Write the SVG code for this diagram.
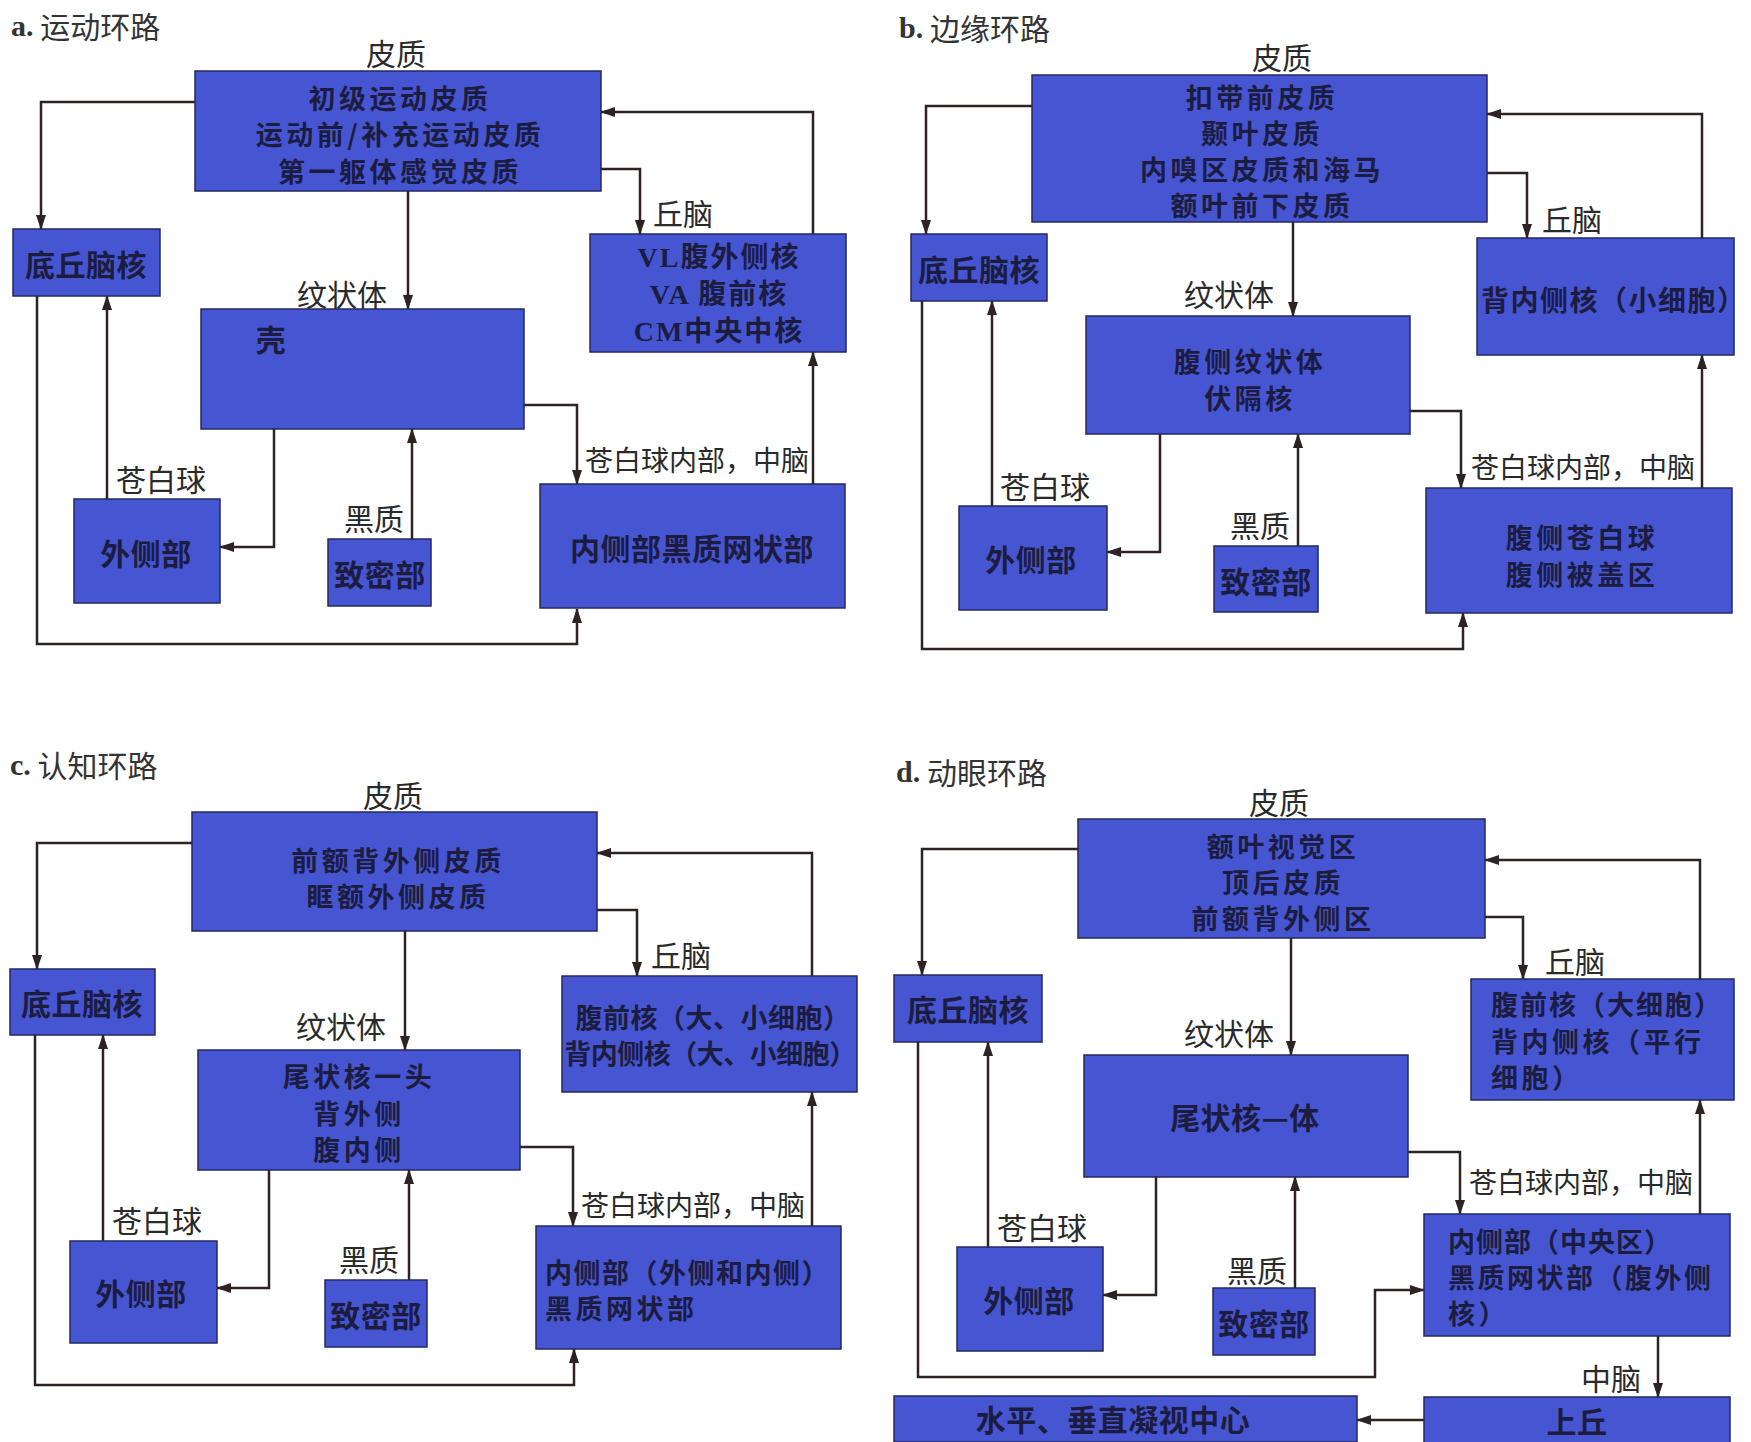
<svg xmlns="http://www.w3.org/2000/svg" width="1751" height="1442" viewBox="0 0 1751 1442">
<defs>
<marker id="arr" markerUnits="userSpaceOnUse" markerWidth="15" markerHeight="10" refX="14" refY="5" orient="auto">
<path d="M0,0 L15,5 L0,10 z" fill="#2e2222"/>
</marker>
<style>
.box{fill:#4656d2;stroke:#25285e;stroke-width:1.5}
.bt{font-family:"Noto Sans CJK SC","Noto Sans",sans-serif;font-size:27px;letter-spacing:3.5px;font-weight:700;fill:#1c1c40;text-anchor:middle;dominant-baseline:central}
.bs{font-size:30px;letter-spacing:0.5px}
.bl{text-anchor:start}
.lt{font-family:"Liberation Serif","Noto Sans CJK SC",serif;font-size:28px;letter-spacing:2px;font-weight:700;fill:#1c1c40;text-anchor:middle;dominant-baseline:central}
.lb{font-family:"Noto Sans CJK SC",sans-serif;font-size:30px;font-weight:400;fill:#2a2a2a;text-anchor:middle;dominant-baseline:central}
.lw{font-size:28px}
.ti{font-family:"Noto Sans CJK SC",sans-serif;font-size:30px;fill:#333;dominant-baseline:central}
.ti tspan.l{font-family:"Liberation Serif",serif;font-weight:700;font-size:30px}
.c{fill:none;stroke:#2e2222;stroke-width:2.5;marker-end:url(#arr)}
</style>
</defs>
<rect width="1751" height="1442" fill="#ffffff"/>

<!-- Titles -->
<text class="ti" x="11" y="25"><tspan class="l">a.</tspan> 运动环路</text>
<text class="ti" x="899" y="27"><tspan class="l">b.</tspan> 边缘环路</text>
<text class="ti" x="10" y="764"><tspan class="l">c.</tspan> 认知环路</text>
<text class="ti" x="896" y="771"><tspan class="l">d.</tspan> 动眼环路</text>

<!-- Labels -->
<g id="labels">
<text class="lb" x="396" y="52">皮质</text>
<text class="lb" x="683" y="212">丘脑</text>
<text class="lb" x="342" y="293">纹状体</text>
<text class="lb" x="161" y="478">苍白球</text>
<text class="lb" x="374" y="517">黑质</text>
<text class="lb lw" x="697" y="459">苍白球内部，中脑</text>

<text class="lb" x="1282" y="56">皮质</text>
<text class="lb" x="1572" y="218">丘脑</text>
<text class="lb" x="1229" y="293">纹状体</text>
<text class="lb" x="1045" y="485">苍白球</text>
<text class="lb" x="1260" y="524">黑质</text>
<text class="lb lw" x="1583" y="466">苍白球内部，中脑</text>

<text class="lb" x="393" y="794">皮质</text>
<text class="lb" x="681" y="954">丘脑</text>
<text class="lb" x="341" y="1025">纹状体</text>
<text class="lb" x="157" y="1219">苍白球</text>
<text class="lb" x="369" y="1258">黑质</text>
<text class="lb lw" x="693" y="1204">苍白球内部，中脑</text>

<text class="lb" x="1279" y="801">皮质</text>
<text class="lb" x="1575" y="960">丘脑</text>
<text class="lb" x="1229" y="1032">纹状体</text>
<text class="lb" x="1042" y="1226">苍白球</text>
<text class="lb" x="1257" y="1269">黑质</text>
<text class="lb lw" x="1581" y="1181">苍白球内部，中脑</text>
<text class="lb" x="1611" y="1377">中脑</text>
</g>

<!-- Connectors -->
<g id="connectors">
<!-- a -->
<polyline class="c" points="195,102 41,102 41,229"/>
<polyline class="c" points="408,191 408,309"/>
<polyline class="c" points="601,169 640,169 640,234"/>
<polyline class="c" points="813,234 813,112 601,112"/>
<polyline class="c" points="524,405 577,405 577,484"/>
<polyline class="c" points="813,484 813,352"/>
<polyline class="c" points="274,429 274,547 220,547"/>
<polyline class="c" points="412,539 412,429"/>
<polyline class="c" points="107,499 107,296"/>
<polyline class="c" points="37,296 37,644 577,644 577,609"/>
<!-- b -->
<polyline class="c" points="1032,106 926,106 926,234"/>
<polyline class="c" points="1293,222 1293,316"/>
<polyline class="c" points="1487,173 1527,173 1527,238"/>
<polyline class="c" points="1702,238 1702,114 1487,114"/>
<polyline class="c" points="1410,411 1461,411 1461,488"/>
<polyline class="c" points="1702,488 1702,355"/>
<polyline class="c" points="1160,434 1160,552 1107,552"/>
<polyline class="c" points="1298,546 1298,434"/>
<polyline class="c" points="992,506 992,301"/>
<polyline class="c" points="922,301 922,649 1463,649 1463,613"/>
<!-- c -->
<polyline class="c" points="192,843 37,843 37,969"/>
<polyline class="c" points="405,931 405,1050"/>
<polyline class="c" points="597,910 637,910 637,976"/>
<polyline class="c" points="812,976 812,853 597,853"/>
<polyline class="c" points="520,1147 573,1147 573,1226"/>
<polyline class="c" points="812,1226 812,1092"/>
<polyline class="c" points="269,1170 269,1288 217,1288"/>
<polyline class="c" points="409,1280 409,1170"/>
<polyline class="c" points="103,1241 103,1035"/>
<polyline class="c" points="35,1035 35,1385 574,1385 574,1349"/>
<!-- d -->
<polyline class="c" points="1078,849 922,849 922,975"/>
<polyline class="c" points="1291,938 1291,1055"/>
<polyline class="c" points="1485,917 1523,917 1523,979"/>
<polyline class="c" points="1700,979 1700,860 1485,860"/>
<polyline class="c" points="1408,1152 1460,1152 1460,1214"/>
<polyline class="c" points="1700,1214 1700,1100"/>
<polyline class="c" points="1156,1177 1156,1295 1103,1295"/>
<polyline class="c" points="1295,1288 1295,1177"/>
<polyline class="c" points="988,1247 988,1042"/>
<polyline class="c" points="918,1042 918,1377 1375,1377 1375,1290 1424,1290"/>
<polyline class="c" points="1658,1336 1658,1397"/>
<polyline class="c" points="1424,1420 1357,1420"/>
</g>

<!-- Panel a nodes -->
<g id="a-cortex"><rect class="box" x="195" y="71" width="406" height="120"/>
<text class="bt" x="400" y="97">初级运动皮质</text>
<text class="bt" x="400" y="133">运动前/补充运动皮质</text>
<text class="bt" x="400" y="170">第一躯体感觉皮质</text></g>
<g id="a-stn"><rect class="box" x="13" y="229" width="147" height="67"/>
<text class="bt bs" x="86" y="263">底丘脑核</text></g>
<g id="a-thal"><rect class="box" x="590" y="234" width="256" height="118"/>
<text class="lt" x="719" y="257">VL腹外侧核</text>
<text class="lt" x="719" y="294">VA 腹前核</text>
<text class="lt" x="719" y="331">CM中央中核</text></g>
<g id="a-putamen"><rect class="box" x="201" y="309" width="323" height="120"/>
<text class="bt bs" x="271" y="338">壳</text></g>
<g id="a-gpe"><rect class="box" x="74" y="499" width="146" height="104"/>
<text class="bt bs" x="146" y="552">外侧部</text></g>
<g id="a-snc"><rect class="box" x="328" y="539" width="103" height="67"/>
<text class="bt bs" x="380" y="573">致密部</text></g>
<g id="a-gpi"><rect class="box" x="540" y="484" width="305" height="124"/>
<text class="bt bs" x="692" y="547">内侧部黑质网状部</text></g>

<!-- Panel b nodes -->
<g id="b-cortex"><rect class="box" x="1032" y="75" width="455" height="147"/>
<text class="bt" x="1262" y="96">扣带前皮质</text>
<text class="bt" x="1262" y="132">颞叶皮质</text>
<text class="bt" x="1262" y="168">内嗅区皮质和海马</text>
<text class="bt" x="1262" y="204">额叶前下皮质</text></g>
<g id="b-stn"><rect class="box" x="911" y="234" width="136" height="67"/>
<text class="bt bs" x="979" y="268">底丘脑核</text></g>
<g id="b-thal"><rect class="box" x="1477" y="238" width="257" height="117"/>
<text class="bt bs bl" x="1481" y="299" style="letter-spacing:1.5px;font-size:28px">背内侧核（小细胞）</text></g>
<g id="b-striatum"><rect class="box" x="1086" y="316" width="324" height="118"/>
<text class="bt" x="1250" y="360">腹侧纹状体</text>
<text class="bt" x="1250" y="397">伏隔核</text></g>
<g id="b-gpe"><rect class="box" x="959" y="506" width="148" height="104"/>
<text class="bt bs" x="1031" y="558">外侧部</text></g>
<g id="b-snc"><rect class="box" x="1214" y="546" width="104" height="66"/>
<text class="bt bs" x="1266" y="580">致密部</text></g>
<g id="b-vp"><rect class="box" x="1426" y="488" width="306" height="125"/>
<text class="bt" x="1582" y="536">腹侧苍白球</text>
<text class="bt" x="1582" y="573">腹侧被盖区</text></g>

<!-- Panel c nodes -->
<g id="c-cortex"><rect class="box" x="192" y="812" width="405" height="119"/>
<text class="bt" x="398" y="859">前额背外侧皮质</text>
<text class="bt" x="398" y="895">眶额外侧皮质</text></g>
<g id="c-stn"><rect class="box" x="10" y="969" width="145" height="66"/>
<text class="bt bs" x="82" y="1002">底丘脑核</text></g>
<g id="c-thal"><rect class="box" x="562" y="976" width="295" height="116"/>
<text class="bt" x="713" y="1016" style="letter-spacing:0.5px">腹前核（大、小细胞）</text>
<text class="bt" x="710" y="1052" style="letter-spacing:-0.5px">背内侧核（大、小细胞）</text></g>
<g id="c-caudate"><rect class="box" x="198" y="1050" width="322" height="120"/>
<text class="bt" x="359" y="1075">尾状核一头</text>
<text class="bt" x="359" y="1112">背外侧</text>
<text class="bt" x="359" y="1148">腹内侧</text></g>
<g id="c-gpe"><rect class="box" x="70" y="1241" width="147" height="102"/>
<text class="bt bs" x="141" y="1292">外侧部</text></g>
<g id="c-snc"><rect class="box" x="325" y="1280" width="102" height="67"/>
<text class="bt bs" x="376" y="1314">致密部</text></g>
<g id="c-gpi"><rect class="box" x="536" y="1226" width="305" height="123"/>
<text class="bt bl" x="545" y="1271" style="letter-spacing:1.5px">内侧部（外侧和内侧）</text>
<text class="bt bl" x="545" y="1307">黑质网状部</text></g>

<!-- Panel d nodes -->
<g id="d-cortex"><rect class="box" x="1078" y="819" width="407" height="119"/>
<text class="bt" x="1283" y="845">额叶视觉区</text>
<text class="bt" x="1283" y="881">顶后皮质</text>
<text class="bt" x="1283" y="917">前额背外侧区</text></g>
<g id="d-stn"><rect class="box" x="894" y="975" width="148" height="67"/>
<text class="bt bs" x="968" y="1008">底丘脑核</text></g>
<g id="d-thal"><rect class="box" x="1471" y="979" width="263" height="121"/>
<text class="bt bl" x="1491" y="1003" style="letter-spacing:2px">腹前核（大细胞）</text>
<text class="bt bl" x="1491" y="1040">背内侧核（平行</text>
<text class="bt bl" x="1491" y="1076">细胞）</text></g>
<g id="d-caudate"><rect class="box" x="1084" y="1055" width="324" height="122"/>
<text class="bt bs" x="1245" y="1116">尾状核—体</text></g>
<g id="d-gpe"><rect class="box" x="957" y="1247" width="146" height="104"/>
<text class="bt bs" x="1029" y="1299">外侧部</text></g>
<g id="d-snc"><rect class="box" x="1213" y="1288" width="102" height="67"/>
<text class="bt bs" x="1264" y="1322">致密部</text></g>
<g id="d-gpi"><rect class="box" x="1424" y="1214" width="306" height="122"/>
<text class="bt bl" x="1448" y="1240" style="letter-spacing:1px">内侧部（中央区）</text>
<text class="bt bl" x="1448" y="1276" style="letter-spacing:2.5px">黑质网状部（腹外侧</text>
<text class="bt bl" x="1448" y="1312">核）</text></g>
<g id="d-sc"><rect class="box" x="1424" y="1397" width="306" height="50"/>
<text class="bt bs" x="1577" y="1420">上丘</text></g>
<g id="d-gaze"><rect class="box" x="894" y="1396" width="463" height="46"/>
<text class="bt bs" x="1113" y="1418">水平、垂直凝视中心</text></g>
</svg>
